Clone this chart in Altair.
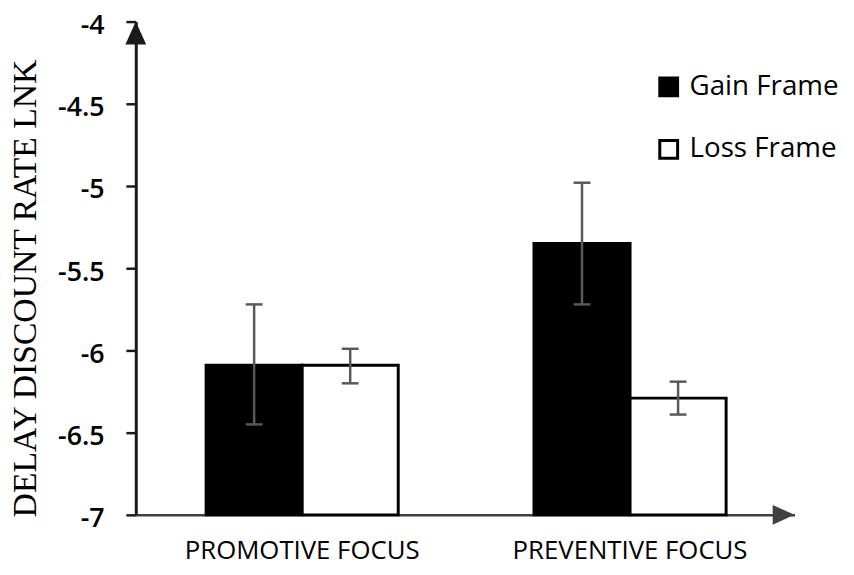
import altair as alt
import pandas as pd

focus = ["PROMOTIVE FOCUS", "PROMOTIVE FOCUS", "PREVENTIVE FOCUS", "PREVENTIVE FOCUS"]
frame = ["Gain Frame", "Loss Frame", "Gain Frame", "Loss Frame"]
mean = [-6.09, -6.09, -5.35, -6.29]
upper = [-5.72, -5.99, -4.98, -6.19]
lower = [-6.45, -6.20, -5.72, -6.39]

focus_order = ["PROMOTIVE FOCUS", "PREVENTIVE FOCUS"]
frame_order = ["Gain Frame", "Loss Frame"]
y_ticks = [-7, -6.5, -6, -5.5, -5, -4.5, -4]

df = pd.DataFrame({"focus": focus, "frame": frame, "mean": mean,
                   "upper": upper, "lower": lower})

x_enc = alt.X("focus:N", sort=focus_order,
              scale=alt.Scale(paddingInner=0.414, paddingOuter=0.2115, align=0.507),
              axis=alt.Axis(title=None, labelAngle=0, ticks=False, tickSize=0,
                            domainColor="#404040", domainWidth=2.5,
                            labelFont="Open Sans", labelFontSize=26,
                            labelColor="#000000", labelBaseline="alphabetic",
                            labelPadding=44, labelLimit=0))
xo_enc = alt.XOffset("frame:N", sort=frame_order,
                     scale=alt.Scale(paddingInner=0, paddingOuter=0))
y_scale = alt.Scale(domain=[-7, -4], zero=False, nice=False)

legend = alt.Legend(title=None, orient="none", legendX=524, legendY=52,
                    symbolType="square", symbolSize=324, symbolStrokeWidth=3,
                    labelFont="Open Sans", labelFontSize=28, labelLimit=0,
                    labelColor="#000000", labelOffset=7, rowPadding=33,
                    padding=0)

bars = alt.Chart(df).mark_bar(strokeWidth=3).encode(
    x=x_enc,
    xOffset=xo_enc,
    y=alt.Y("mean:Q", scale=y_scale,
            axis=alt.Axis(values=y_ticks, grid=False,
                          labelExpr="(datum.value < 0 ? '-' : '') + format(abs(datum.value), '~g')",
                          domainColor="#1a1a1a", domainWidth=3,
                          tickColor="#1a1a1a", tickWidth=2.5, tickSize=10,
                          labelFont="Open Sans", labelFontSize=27,
                          labelFontWeight=600,
                          labelColor="#000000", labelPadding=22,
                          labelBaseline="middle", labelOffset=4,
                          title="DELAY DISCOUNT RATE LNK",
                          titleFont="Liberation Serif", titleFontSize=34,
                          titleFontWeight="normal", titleColor="#000000",
                          titleX=-101, titleY=269, titleAngle=-90,
                          titleAlign="center", titleBaseline="alphabetic")),
    y2=alt.datum(-7),
    fill=alt.Fill("frame:N", sort=frame_order,
                  scale=alt.Scale(domain=frame_order, range=["#000000", "#ffffff"]),
                  legend=legend),
    stroke=alt.Stroke("frame:N", sort=frame_order,
                      scale=alt.Scale(domain=frame_order, range=["#000000", "#000000"]),
                      legend=legend),
)

err = alt.Chart(df).mark_rule(color="#595959", strokeWidth=2.5).encode(
    x=alt.X("focus:N", sort=focus_order),
    xOffset=alt.XOffset("frame:N", sort=frame_order),
    y=alt.Y("upper:Q"),
    y2="lower:Q",
)
cap_hi = alt.Chart(df).mark_tick(color="#595959", thickness=2.5, size=17, opacity=1).encode(
    x=alt.X("focus:N", sort=focus_order),
    xOffset=alt.XOffset("frame:N", sort=frame_order),
    y=alt.Y("upper:Q"),
)
cap_lo = alt.Chart(df).mark_tick(color="#595959", thickness=2.5, size=17, opacity=1).encode(
    x=alt.X("focus:N", sort=focus_order),
    xOffset=alt.XOffset("frame:N", sort=frame_order),
    y=alt.Y("lower:Q"),
)

one = alt.Data(values=[{"a": 1}])
y_arrow = alt.Chart(one).mark_point(
    shape="M0,0L1,2.2L-1,2.2Z", filled=True, size=441, color="#1a1a1a",
    opacity=1, strokeWidth=0).encode(x=alt.value(0), y=alt.value(0))
x_arrow = alt.Chart(one).mark_point(
    shape="M0,0L-2.2,-1L-2.2,1Z", filled=True, size=400, color="#404040",
    opacity=1, strokeWidth=0).encode(x=alt.value("width"), y=alt.value("height"))

chart = alt.layer(bars, err, cap_hi, cap_lo, y_arrow, x_arrow).properties(
    width=665, height=498,
    background="#ffffff",
    autosize=alt.AutoSizeParams(type="none"),
    padding={"left": 129, "top": 11, "right": 52, "bottom": 58},
).configure_view(stroke=None)

chart.save("out.html", embed_options={"renderer": "svg", "actions": False})
